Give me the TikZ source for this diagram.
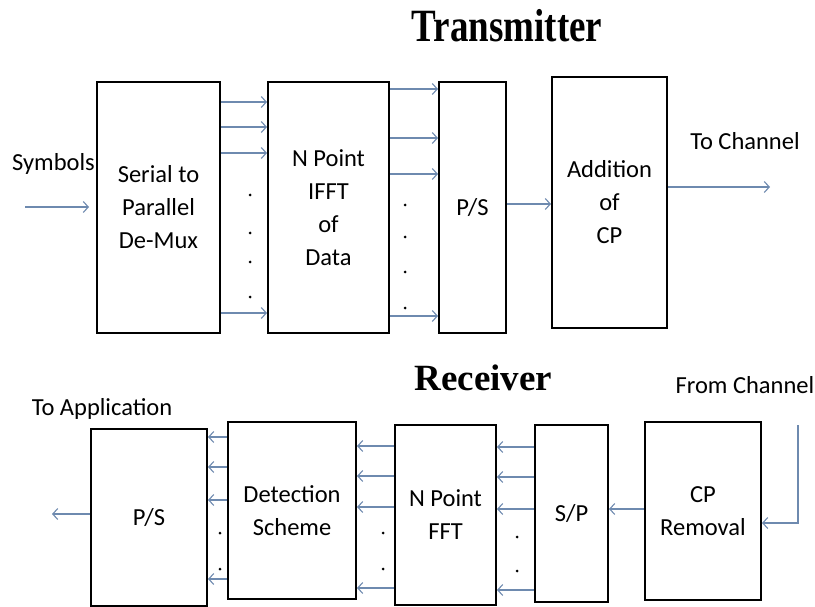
\documentclass[tikz,border=0pt]{standalone}
\usepackage{fontspec}
\setmainfont{Carlito}
\newfontfamily\titlefont{Liberation Serif}
\usetikzlibrary{arrows.meta}
\definecolor{arrcol}{RGB}{110,138,175}
\tikzset{
  box/.style={draw=black, line width=2pt, rectangle, align=center,
    font=\fontsize{24.5}{33}\selectfont, inner sep=0pt},
  arr/.style={draw=arrcol, line width=1.1pt, -{Straight Barb[length=5pt,width=11pt]}},
  lbl/.style={font=\fontsize{24.5}{28}\selectfont, anchor=base, inner sep=0pt},
  ttl/.style={font=\titlefont\bfseries\fontsize{37}{40}\selectfont, anchor=base, inner sep=0pt},
  dotm/.style={circle, fill=black, inner sep=0pt, minimum size=3pt}
}
\begin{document}
\begin{tikzpicture}[x=1pt,y=-1pt]
\useasboundingbox (0,0) rectangle (815,607);
% titles
\node[ttl] (ttx) at (507,42) {\scalebox{1}[1.25]{Transmitter}};
\node[ttl] (trx) at (483.5,390) {Receiver};
% transmitter boxes
\node[box, minimum width=123pt, minimum height=251pt] (sp) at (158.5,207.5) {Serial to\\Parallel\\De-Mux};
\node[box, minimum width=121pt, minimum height=251pt] (ifft) at (328.5,207.5) {N Point\\IFFT\\of\\Data};
\node[box, minimum width=67pt, minimum height=251pt] (ps) at (472.5,207.5) {P/S};
\node[box, minimum width=115pt, minimum height=251pt] (acp) at (609.5,202.5) {Addition\\of\\CP};
% receiver boxes
\node[box, minimum width=116pt, minimum height=177pt] (rps) at (149,517.5) {P/S};
\node[box, minimum width=128pt, minimum height=177pt] (det) at (292,510.5) {Detection\\Scheme};
\node[box, minimum width=101pt, minimum height=180pt] (fft) at (445.5,515) {N Point\\FFT};
\node[box, minimum width=73pt, minimum height=177pt] (rsp) at (571.5,513.5) {S/P};
\node[box, minimum width=116pt, minimum height=178pt] (cpr) at (703,511) {CP\\Removal};
% labels
\node[lbl] (lsym) at (53.5,171) {Symbols};
\node[lbl] (ltoc) at (745,150) {To Channel};
\node[lbl] (ltoa) at (102,415) {To Application};
\node[lbl] (lfrc) at (745,393) {From Channel};
% free ends
\coordinate (symin) at (25,207);
\coordinate (chout) at (770,187);
\coordinate (chin) at (798,425);
\coordinate (appout) at (52,514);
% transmitter arrows
\draw[arr, shorten >=7pt] (symin) -- (sp.west |- symin);
\foreach \yy in {102,127,153,313} \draw[arr] (sp.east |- 0,\yy) -- (ifft.west |- 0,\yy);
\foreach \yy in {89,138,174,316} \draw[arr] (ifft.east |- 0,\yy) -- (ps.west |- 0,\yy);
\draw[arr] (ps.east |- 0,204) -- (acp.west |- 0,204);
\draw[arr] (acp.east |- chout) -- (chout);
\foreach \yy in {195,233,262,297} \node[dotm] at (250,\yy) {};
\foreach \yy in {205,237,272,308} \node[dotm] at (405,\yy) {};
% receiver arrows
\foreach \yy in {437,467,500,579} \draw[arr] (det.west |- 0,\yy) -- (rps.east |- 0,\yy);
\foreach \yy in {446,476,507,588} \draw[arr] (fft.west |- 0,\yy) -- (det.east |- 0,\yy);
\foreach \yy in {447,477,509,590} \draw[arr] (rsp.west |- 0,\yy) -- (fft.east |- 0,\yy);
\draw[arr] (cpr.west |- 0,509) -- (rsp.east |- 0,509);
\draw[arr] (chin) |- (cpr.east |- 0,523);
\draw[arr] (rps.west |- appout) -- (appout);
\foreach \yy in {533,569} \node[dotm] at (220,\yy) {};
\foreach \yy in {533,569} \node[dotm] at (383,\yy) {};
\foreach \yy in {537,571} \node[dotm] at (517,\yy) {};
\end{tikzpicture}
\end{document}
